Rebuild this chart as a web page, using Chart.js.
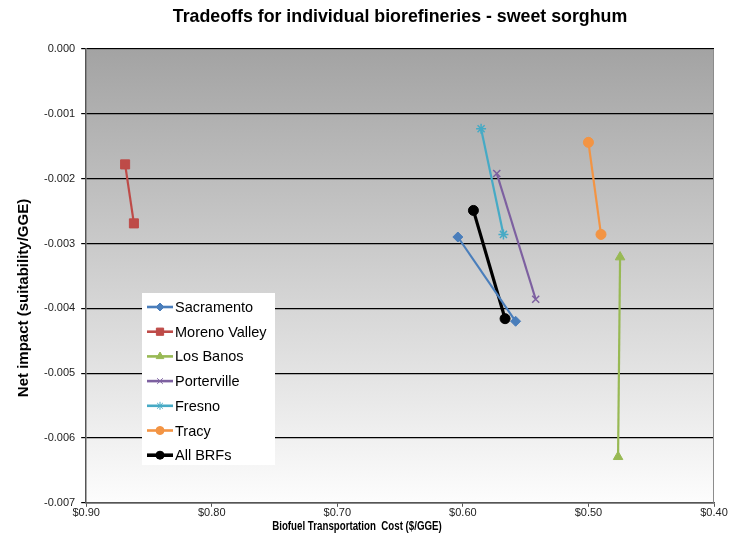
<!DOCTYPE html>
<html><head><meta charset="utf-8">
<script src="https://cdn.jsdelivr.net/npm/chart.js@4/dist/chart.umd.min.js"></script>
<style>html,body{margin:0;padding:0;background:#fff}#w{width:732px;height:556px}</style>
</head><body><div id="w"><canvas id="c" width="732" height="556"></canvas></div>
<script>
const seriesNames = ["Sacramento","Moreno Valley","Los Banos","Porterville","Fresno","Tracy","All BRFs"];
const sacramentoX = [0.604, 0.558];   const sacramentoY = [-0.00290, -0.00420];
const morenoX = [0.869, 0.862];       const morenoY = [-0.00178, -0.00269];
const losBanosX = [0.4764, 0.4748];   const losBanosY = [-0.00629, -0.00321];
const portervilleX = [0.573, 0.542];  const portervilleY = [-0.00192, -0.00386];
const fresnoX = [0.5855, 0.5677];     const fresnoY = [-0.00123, -0.00286];
const tracyX = [0.500, 0.490];        const tracyY = [-0.00144, -0.00286];
const allX = [0.5916, 0.5664];        const allY = [-0.00249, -0.00416];
const xTicks = [0.90, 0.80, 0.70, 0.60, 0.50, 0.40];
const yTicks = [0.000, -0.001, -0.002, -0.003, -0.004, -0.005, -0.006, -0.007];
const chartTitle = 'Tradeoffs for individual biorefineries - sweet sorghum';
const xTitle = 'Biofuel Transportation  Cost ($/GGE)';
const yTitle = 'Net impact (suitability/GGE)';

const xs = [sacramentoX, morenoX, losBanosX, portervilleX, fresnoX, tracyX, allX];
const ys = [sacramentoY, morenoY, losBanosY, portervilleY, fresnoY, tracyY, allY];
const colors = ["#4a7ebb","#be4b48","#98b954","#7d60a0","#46aac5","#f39443","#000000"];
const styles = ["rectRot","rect","triangle","crossRot","star","circle","circle"];
const radii = [5,6.4,5.5,5,5,5,5];
const widths = [2.2,2.2,2.2,2.2,2.2,2.2,3.2];
const FONT = '"Liberation Sans", Arial, sans-serif';

const datasets = seriesNames.map((n,i)=>({
  label:n,
  data: xs[i].map((x,j)=>({x:x,y:ys[i][j]})),
  showLine:true,
  borderColor:colors[i], backgroundColor:colors[i],
  pointBackgroundColor:colors[i], pointBorderColor:colors[i],
  pointStyle:styles[i], pointRadius:radii[i], pointBorderWidth: (styles[i]==="crossRot"||styles[i]==="star")?1.5:1,
  borderWidth:widths[i]
}));

const bgPlugin = {
  id:'bg',
  beforeDraw(chart){
    const {ctx, chartArea:a} = chart;
    const g = ctx.createLinearGradient(0,a.top,0,a.bottom);
    g.addColorStop(0,'#a3a3a3'); g.addColorStop(1,'#fdfdfd');
    ctx.save(); ctx.fillStyle=g; ctx.fillRect(a.left,a.top,a.right-a.left,a.bottom-a.top); ctx.restore();
  },
  afterDraw(chart){
    const {ctx, chartArea:a} = chart;
    ctx.save();
    ctx.strokeStyle='#8c8c8c'; ctx.lineWidth=1;
    ctx.beginPath(); ctx.moveTo(a.left,a.top+0.5); ctx.lineTo(a.right-0.5,a.top+0.5); ctx.lineTo(a.right-0.5,a.bottom); ctx.stroke();
    // titles
    ctx.fillStyle='#000'; ctx.textAlign='center'; ctx.textBaseline='middle';
    ctx.font='bold 17.8px '+FONT;
    ctx.fillText(chartTitle, 400, 17);
    ctx.save(); ctx.translate(357,526); ctx.scale(0.72,1);
    ctx.font='bold 13.5px '+FONT;
    ctx.fillText(xTitle, 0, 0); ctx.restore();
    ctx.save(); ctx.translate(24,298); ctx.rotate(-Math.PI/2);
    ctx.font='bold 15px '+FONT;
    ctx.fillText(yTitle, 0, 0); ctx.restore();
    // legend
    const lx=142, ly=293, lw=133, lh=172;
    ctx.fillStyle='#ffffff'; ctx.fillRect(lx,ly,lw,lh);
    ctx.font='14.5px '+FONT;
    ctx.textAlign='left'; ctx.textBaseline='middle';
    chart.data.datasets.forEach((d,i)=>{
      const y = ly+14+i*24.7;
      ctx.strokeStyle=d.borderColor; ctx.lineWidth=d.borderWidth+0.4;
      ctx.beginPath(); ctx.moveTo(lx+5,y); ctx.lineTo(lx+31,y); ctx.stroke();
      ctx.fillStyle=d.borderColor; ctx.strokeStyle=d.borderColor; ctx.lineWidth=1;
      Chart.helpers.drawPoint(ctx,{pointStyle:d.pointStyle,radius:d.pointRadius*0.8,borderWidth:d.pointBorderWidth,rotation:0},lx+18,y);
      ctx.fillStyle='#000'; ctx.fillText(d.label,lx+33,y+1);
    });
    ctx.restore();
  }
};

new Chart(document.getElementById('c'),{
  type:'scatter',
  data:{datasets},
  options:{
    responsive:false, animation:false,
    layout:{padding:{left:38,right:18,top:49,bottom:36}},
    plugins:{
      legend:{display:false},
      tooltip:{enabled:false},
      title:{display:false}
    },
    scales:{
      x:{type:'linear',reverse:true,min:0.4,max:0.9,
        afterBuildTicks(ax){ax.ticks=xTicks.map(v=>({value:v}));},
        ticks:{callback:v=>'$'+Number(v).toFixed(2),color:'#222',font:{family:FONT,size:11},padding:0,maxRotation:0},
        grid:{drawOnChartArea:false,drawTicks:true,tickLength:4,color:'#555'},
        border:{color:'#555',width:1.5}
      },
      y:{type:'linear',min:-0.007,max:0,
        afterBuildTicks(ax){ax.ticks=yTicks.map(v=>({value:v}));},
        ticks:{callback:v=>Number(v).toFixed(3),color:'#222',font:{family:FONT,size:11},padding:6},
        grid:{color:'#000',lineWidth:1.2,drawTicks:true,tickLength:5},
        border:{color:'#555',width:1.5}
      }
    }
  },
  plugins:[bgPlugin]
});
</script></body></html>
